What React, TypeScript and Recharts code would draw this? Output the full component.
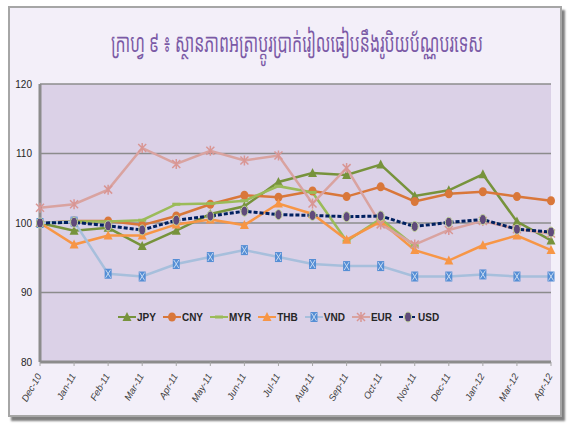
import React from "react";
import { LineChart, Line, XAxis, YAxis, CartesianGrid } from "recharts";

const months = [
  "Dec-10", "Jan-11", "Feb-11", "Mar-11", "Apr-11", "May-11", "Jun-11", "Jul-11",
  "Aug-11", "Sep-11", "Oct-11", "Nov-11", "Dec-11", "Jan-12", "Mar-12", "Apr-12",
];
const jpy = [100, 98.9, 99.3, 96.7, 98.9, 101.3, 102.4, 105.9, 107.2, 106.9, 108.4, 103.9, 104.7, 107.0, 100.2, 97.5];
const cny = [100, 100.3, 100.3, 99.7, 101.0, 102.7, 104.0, 103.7, 104.6, 103.8, 105.2, 103.1, 104.2, 104.5, 103.8, 103.2];
const myr = [100, 100.2, 100.2, 100.4, 102.7, 102.8, 103.2, 105.3, 104.4, 97.4, 100.6, 96.7, null, null, null, null];
const thb = [100, 96.9, 98.2, 98.2, 99.8, 100.5, 99.7, 102.8, 101.3, 97.6, 100.2, 96.1, 94.6, 96.8, 98.2, 96.1];
const vnd = [100, 100.2, 92.7, 92.3, 94.1, 95.1, 96.1, 95.1, 94.1, 93.8, 93.8, 92.3, 92.3, 92.6, 92.3, 92.3];
const eur = [102.2, 102.7, 104.8, 110.8, 108.5, 110.4, 109.0, 109.7, 102.8, 107.9, 99.8, 96.9, 99.0, 100.3, 99.1, 98.5];
const usd = [100, 100.1, 99.6, 99.0, 100.4, 101.0, 101.7, 101.2, 101.1, 100.9, 101.0, 99.5, 100.1, 100.5, 99.1, 98.7];
const yTicks = [80, 90, 100, 110, 120];

const data = months.map((m, i) => ({
  month: m,
  JPY: jpy[i],
  CNY: cny[i],
  MYR: myr[i],
  THB: thb[i],
  VND: vnd[i],
  EUR: eur[i],
  USD: usd[i],
}));

const narrow = "'Liberation Sans Narrow', 'Arial Narrow', 'Liberation Sans', sans-serif";

type Mark = (cx: number, cy: number, key?: string) => React.ReactElement;

const tri = (color: string): Mark => (cx, cy, key) => (
  <polygon key={key} points={`${cx},${cy - 5} ${cx - 4.5},${cy + 4} ${cx + 4.5},${cy + 4}`} fill={color} />
);
const circ = (color: string): Mark => (cx, cy, key) => (
  <ellipse key={key} cx={cx} cy={cy} rx={4} ry={4.5} fill={color} />
);
const dash = (color: string): Mark => (cx, cy, key) => (
  <rect key={key} x={cx - 4} y={cy - 1.5} width={8} height={3} fill={color} />
);
const box: Mark = (cx, cy, key) => (
  <g key={key}>
    <rect x={cx - 3.5} y={cy - 5} width={7} height={10} fill="#558ed5" />
    <path d={`M${cx - 2.5},${cy - 4}L${cx + 2.5},${cy + 4}M${cx + 2.5},${cy - 4}L${cx - 2.5},${cy + 4}`} stroke="#c6d9f1" strokeWidth={1} />
  </g>
);
const star: Mark = (cx, cy, key) => (
  <path
    key={key}
    d={`M${cx - 4},${cy - 4}L${cx + 4},${cy + 4}M${cx + 4},${cy - 4}L${cx - 4},${cy + 4}M${cx},${cy - 5}L${cx},${cy + 5}`}
    stroke="#d99694"
    strokeWidth={1.5}
  />
);
const oval: Mark = (cx, cy, key) => (
  <ellipse key={key} cx={cx} cy={cy} rx={3.5} ry={5} fill="#604a7b" stroke="#c3d69b" strokeWidth={1} />
);

const series = [
  { key: "JPY", color: "#77933c", mark: tri("#77933c"), dash: undefined },
  { key: "CNY", color: "#d9773a", mark: circ("#d9773a"), dash: undefined },
  { key: "MYR", color: "#9bbb59", mark: dash("#9bbb59"), dash: undefined },
  { key: "THB", color: "#f79646", mark: tri("#f79646"), dash: undefined },
  { key: "VND", color: "#a7bfdc", mark: box, dash: undefined },
  { key: "EUR", color: "#d9a3a0", mark: star, dash: undefined },
  { key: "USD", color: "#002060", mark: oval, dash: "4 2" },
];

const dotFor = (mark: Mark) => (props: any) => {
  const { cx, cy, value, index } = props;
  if (value == null || cx == null || cy == null) return <g key={`n${index}`} />;
  return mark(cx, cy, `d${index}`);
};

const XTick = (props: any) => {
  const { x, y, payload } = props;
  return (
    <text
      x={x + 2}
      y={y + 8}
      transform={`rotate(-60 ${x + 2} ${y + 8})`}
      textAnchor="end"
      fontSize={9.5}
      fontStyle="italic"
      fontFamily={narrow}
      fill="#404040"
    >
      {payload.value}
    </text>
  );
};

const LegendRow = () => (
  <div
    style={{
      position: "absolute",
      left: 118,
      top: 311,
      display: "flex",
      gap: 7,
      fontFamily: narrow,
      fontWeight: "bold",
      fontSize: 10,
      color: "#262626",
      alignItems: "center",
    }}
  >
    {series.map((s) => (
      <div key={s.key} style={{ display: "flex", alignItems: "center", gap: 1 }}>
        <svg width={18} height={12}>
          <line x1={0} y1={6} x2={18} y2={6} stroke={s.color} strokeWidth={2} strokeDasharray={s.dash} />
          {s.mark(9, 6)}
        </svg>
        <span>{s.key}</span>
      </div>
    ))}
  </div>
);

export default function App() {
  return (
    <div style={{ position: "absolute", left: 0, top: 0, width: 569, height: 425, background: "#ffffff" }}>
      <div
        style={{
          position: "absolute",
          left: 8,
          top: 6,
          width: 550,
          height: 407,
          background: "#f3eff9",
          border: "2px solid #a6a6a6",
          boxShadow: "3px 4px 2px #7f7f7f",
        }}
      />
      <div
        style={{
          position: "absolute",
          left: 0,
          top: 24,
          width: 569,
          textAlign: "center",
          fontSize: 26,
          color: "#7b5aa6",
          whiteSpace: "nowrap",
          transform: "scaleX(0.61)",
          transformOrigin: "center",
          fontFamily: "'Khmer OS', 'Noto Sans Khmer', 'Noto Sans', sans-serif",
        }}
      >
        ក្រាហ្វ ៩ ៖ ស្ថានភាពអត្រាប្តូរប្រាក់រៀលធៀបនឹងរូបិយប័ណ្ណបរទេស
      </div>
      <div style={{ position: "absolute", left: 0, top: 0 }}>
        <LineChart width={569} height={425} data={data} margin={{ top: 84, right: 18, left: 10, bottom: 0 }}>
          <CartesianGrid vertical={false} fill="#dbd1e7" stroke="#8c8c8c" strokeWidth={1.5} />
          <XAxis
            dataKey="month"
            interval={0}
            height={63}
            tick={<XTick />}
            axisLine={{ stroke: "#8c8c8c", strokeWidth: 3 }}
            tickLine={{ stroke: "#a6a6a6" }}
            tickSize={4}
          />
          <YAxis
            domain={[80, 120]}
            ticks={yTicks}
            width={30}
            axisLine={{ stroke: "#8c8c8c", strokeWidth: 3 }}
            tickLine={false}
            tick={{ fontSize: 10, fill: "#262626", fontFamily: narrow }}
          />
          {series.map((s) => (
            <Line
              key={s.key}
              dataKey={s.key}
              type="linear"
              stroke={s.color}
              strokeWidth={s.key === "USD" ? 3 : 2.5}
              strokeDasharray={s.dash}
              dot={dotFor(s.mark)}
              activeDot={false}
              isAnimationActive={false}
            />
          ))}
        </LineChart>
      </div>
      <LegendRow />
    </div>
  );
}
